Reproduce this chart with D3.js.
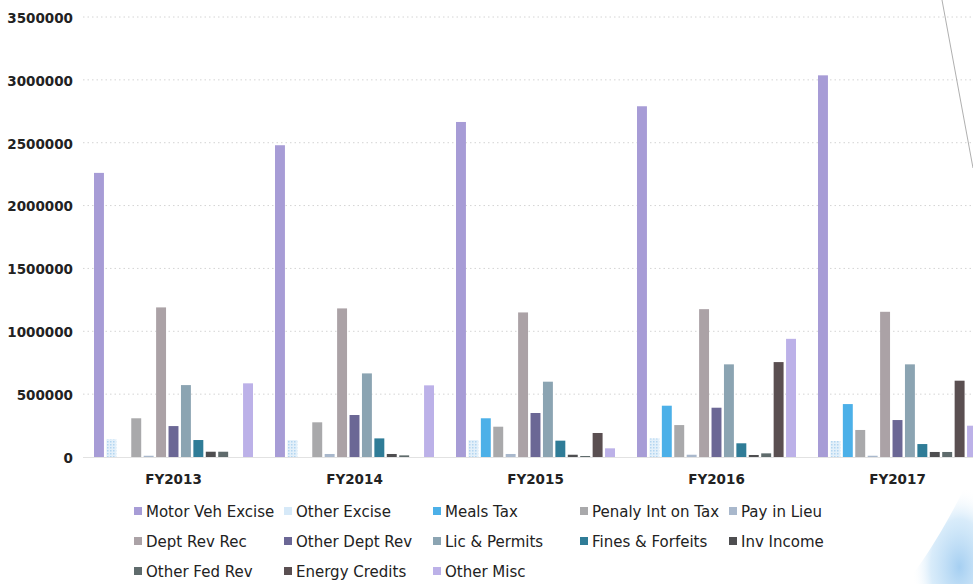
<!DOCTYPE html>
<html>
<head>
<meta charset="utf-8">
<script src="https://cdn.jsdelivr.net/npm/d3@7"></script>
<style>
  html, body { margin: 0; padding: 0; background: #fff; }
  svg { display: block; }
</style>
</head>
<body>
<svg id="chart" width="973" height="584"></svg>
<script>
// ---- data ----
const categories = ["FY2013", "FY2014", "FY2015", "FY2016", "FY2017"];
const seriesNames = ["Motor Veh Excise", "Other Excise", "Meals Tax", "Penaly Int on Tax", "Pay in Lieu",
  "Dept Rev Rec", "Other Dept Rev", "Lic & Permits", "Fines & Forfeits", "Inv Income",
  "Other Fed Rev", "Energy Credits", "Other Misc"];
const motorVehExcise = [2260000, 2480000, 2665000, 2790000, 3036000];
const otherExcise    = [141000, 135000, 135000, 148000, 127000];
const mealsTax       = [0, 0, 308000, 408000, 421000];
const penalyIntOnTax = [308000, 276000, 241000, 254000, 215000];
const payInLieu      = [10000, 24000, 24000, 18000, 10000];
const deptRevRec     = [1190000, 1182000, 1150000, 1176000, 1155000];
const otherDeptRev   = [246000, 334000, 350000, 392000, 294000];
const licPermits     = [572000, 665000, 599000, 737000, 737000];
const finesForfeits  = [135000, 148000, 130000, 109000, 103000];
const invIncome      = [42000, 24000, 18000, 16000, 40000];
const otherFedRev    = [42000, 13000, 8000, 29000, 40000];
const energyCredits  = [0, 0, 191000, 755000, 607000];
const otherMisc      = [586000, 570000, 69000, 940000, 249000];
const seriesValues = [motorVehExcise, otherExcise, mealsTax, penalyIntOnTax, payInLieu,
  deptRevRec, otherDeptRev, licPermits, finesForfeits, invIncome, otherFedRev, energyCredits, otherMisc];
const yTicks = [0, 500000, 1000000, 1500000, 2000000, 2500000, 3000000, 3500000];

// ---- styles ----
const seriesColors = ["#a79cd6", "url(#dotsPat)", "#4cb0e8", "#a9a9ab", "#a9b8cc",
  "#aba2a6", "#6b6795", "#8ba4b2", "#2f7c97", "#4e4e50",
  "#5f6b6c", "#5a4f51", "#bcb1e8"];
const legendSwatch = ["#a79cd6", "#d6e9f8", "#4cb0e8", "#a9a9ab", "#a9b8cc",
  "#aba2a6", "#6b6795", "#8ba4b2", "#2f7c97", "#4e4e50",
  "#5f6b6c", "#5a4f51", "#bcb1e8"];

const svg = d3.select("#chart");
const W = 973, H = 584;
svg.append("rect").attr("width", W).attr("height", H).attr("fill", "#fff");

const defs = svg.append("defs");
const pat = defs.append("pattern").attr("id", "dotsPat")
  .attr("width", 3).attr("height", 3).attr("patternUnits", "userSpaceOnUse");
pat.append("rect").attr("width", 3).attr("height", 3).attr("fill", "#e3f0fa");
pat.append("rect").attr("width", 1.5).attr("height", 1.5).attr("fill", "#b2d5f0");

const rg = defs.append("radialGradient").attr("id", "smudge").attr("cx", "0.8").attr("cy", "0.85").attr("r", "0.7");
rg.append("stop").attr("offset", "0").attr("stop-color", "#8fc3ee").attr("stop-opacity", 0.8);
rg.append("stop").attr("offset", "0.6").attr("stop-color", "#b9dcf6").attr("stop-opacity", 0.55);
rg.append("stop").attr("offset", "1").attr("stop-color", "#ffffff").attr("stop-opacity", 0);

const y = d3.scaleLinear().domain([0, 3500000]).range([457, 17]);
const x0 = d3.scaleBand().domain(categories).range([83, 988]).paddingInner(0).paddingOuter(0);
const x1 = d3.scaleBand().domain(seriesNames).range([11, 170]).paddingInner(0.2).paddingOuter(0);

// gridlines
svg.append("g").selectAll("line").data(yTicks.filter(d => d > 0)).join("line")
  .attr("x1", 83).attr("x2", W)
  .attr("y1", d => y(d)).attr("y2", d => y(d))
  .attr("stroke", "#d4d4d4").attr("stroke-width", 1).attr("stroke-dasharray", "1.5,3");
svg.append("line").attr("x1", 83).attr("x2", W).attr("y1", y(0) + 0.5).attr("y2", y(0) + 0.5)
  .attr("stroke", "#e2e2e2").attr("stroke-width", 1);

// y axis labels
const yAxis = d3.axisLeft(y).tickValues(yTicks).tickFormat(d3.format("d")).tickSize(0).tickPadding(0);
const yg = svg.append("g").attr("transform", "translate(73,1)").call(yAxis);
yg.select(".domain").remove();
yg.selectAll("text").attr("font-family", "DejaVu Sans").attr("font-weight", "bold")
  .attr("font-size", "13.5px").attr("fill", "#222");

// bars
const groups = svg.append("g").selectAll("g").data(categories).join("g")
  .attr("transform", d => `translate(${x0(d)},0)`);
groups.selectAll("rect").data((c, ci) => seriesNames.map((s, si) => ({ s, si, v: seriesValues[si][ci] })))
  .join("rect")
  .attr("x", d => x1(d.s)).attr("width", x1.bandwidth())
  .attr("y", d => y(d.v)).attr("height", d => y(0) - y(d.v))
  .attr("fill", d => seriesColors[d.si]);

// x axis labels
const xAxis = d3.axisBottom(x0).tickSize(0).tickPadding(0);
const xg = svg.append("g").attr("transform", "translate(0,474)").call(xAxis);
xg.select(".domain").remove();
xg.selectAll("text").attr("font-family", "DejaVu Sans").attr("font-weight", "bold")
  .attr("font-size", "13.5px").attr("fill", "#222");

// legend
const legCols = [134, 284, 433, 580, 729];
const legRows = [512, 542, 572];
const leg = svg.append("g").selectAll("g").data(seriesNames).join("g")
  .attr("transform", (d, i) => `translate(${legCols[i % 5]},${legRows[Math.floor(i / 5)]})`);
leg.append("rect").attr("x", 0).attr("y", -5).attr("width", 8).attr("height", 8)
  .attr("fill", (d, i) => legendSwatch[i]);
leg.append("text").attr("x", 12).attr("y", 0).attr("dy", "0.35em")
  .attr("font-family", "DejaVu Sans").attr("font-size", "15px").attr("fill", "#222")
  .text(d => d);

// scan artifacts
svg.append("path").attr("d", "M905,584 C925,560 950,520 973,470 L973,584 Z").attr("fill", "url(#smudge)");
svg.append("line").attr("x1", 942).attr("y1", 0).attr("x2", 973).attr("y2", 168)
  .attr("stroke", "#9a9a9a").attr("stroke-width", 0.8);
</script>
</body>
</html>
